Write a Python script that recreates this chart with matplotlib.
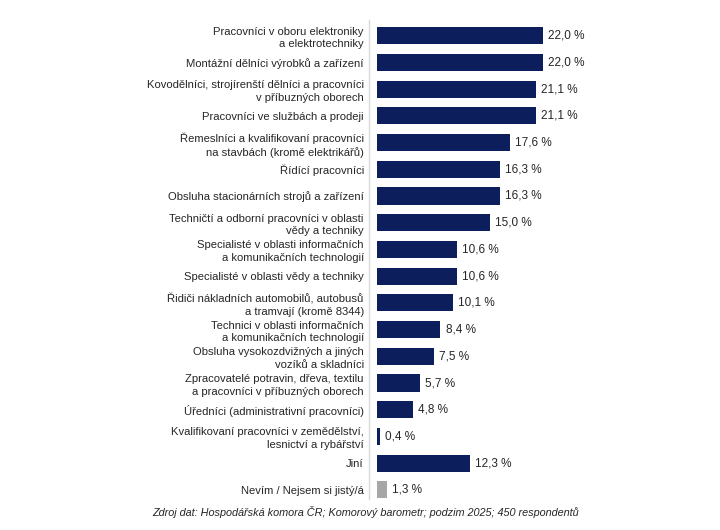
import matplotlib.pyplot as plt

plt.rcParams['font.family'] = ['Liberation Sans', 'DejaVu Sans']

categories = [
    "Pracovníci v oboru elektroniky\na elektrotechniky",
    "Montážní dělníci výrobků a zařízení",
    "Kovodělníci, strojírenští dělníci a pracovníci\nv příbuzných oborech",
    "Pracovníci ve službách a prodeji",
    "Řemeslníci a kvalifikovaní pracovníci\nna stavbách (kromě elektrikářů)",
    "Řídící pracovníci",
    "Obsluha stacionárních strojů a zařízení",
    "Techničtí a odborní pracovníci v oblasti\nvědy a techniky",
    "Specialisté v oblasti informačních\na komunikačních technologií",
    "Specialisté v oblasti vědy a techniky",
    "Řidiči nákladních automobilů, autobusů\na tramvají (kromě 8344)",
    "Technici v oblasti informačních\na komunikačních technologií",
    "Obsluha vysokozdvižných a jiných\nvozíků a skladníci",
    "Zpracovatelé potravin, dřeva, textilu\na pracovníci v příbuzných oborech",
    "Úředníci (administrativní pracovníci)",
    "Kvalifikovaní pracovníci v zemědělství,\nlesnictví a rybářství",
    "Jiní",
    "Nevím / Nejsem si jistý/á",
]
values = [22.0, 22.0, 21.1, 21.1, 17.6, 16.3, 16.3, 15.0, 10.6, 10.6,
          10.1, 8.4, 7.5, 5.7, 4.8, 0.4, 12.3, 1.3]

navy = '#0c1e5b'
grey = '#a6a6a6'
colors = [navy] * (len(values) - 1) + [grey]

fig = plt.figure(figsize=(7.2, 5.3), dpi=100)
ax = fig.add_axes([0.513, 0.0585, 0.346, 0.9035])

y = range(len(values))
ax.barh(y, values, height=0.64, color=colors)
for i, v in enumerate(values):
    ax.text(v + 0.7, i, f"{v:.1f} %".replace('.', ','), va='center', ha='left',
            fontsize=8.5, color='#262626')

ax.set_xlim(-1, 32)
ax.set_ylim(len(values) - 0.66, -0.58)
ax.set_yticks(list(y))
ax.set_yticklabels(categories, fontsize=8.1, color='#262626', linespacing=1.35)
ax.tick_params(axis='y', length=0, pad=4)
ax.set_xticks([])
for s in ['top', 'right', 'bottom']:
    ax.spines[s].set_visible(False)
ax.spines['left'].set_color('#d9d9d9')
ax.spines['left'].set_linewidth(1.0)

fig.text(0.508, 0.034, "Zdroj dat: Hospodářská komora ČR; Komorový barometr; podzim 2025; 450 respondentů",
         ha='center', va='center', fontsize=7.8, style='italic', color='#262626')

fig.savefig('out.png', dpi=100)
